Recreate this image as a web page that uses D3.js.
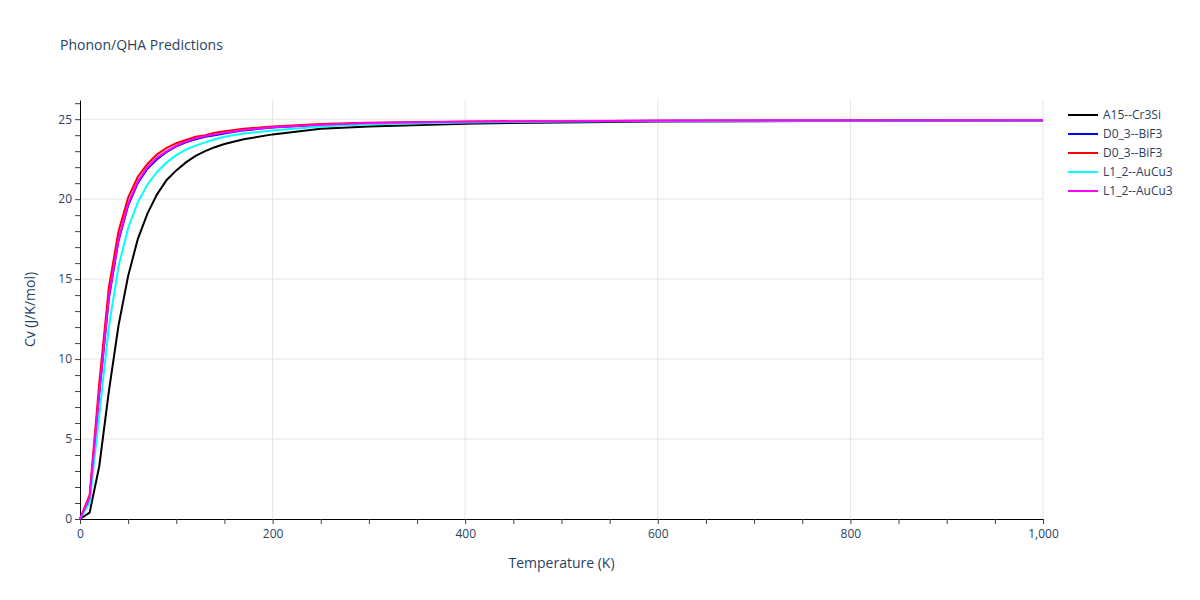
<!DOCTYPE html><html><head><meta charset="utf-8"><script src="https://cdn.jsdelivr.net/npm/d3@7"></script>
<style>body{margin:0;background:#fff}text{font-family:"Open Sans",sans-serif}</style></head><body><svg id="c" width="1200" height="600"></svg>
<script>
const temps=[0,10,20,30,40,50,60,70,80,90,100,110,120,130,140,150,170,200,250,300,400,500,600,800,1000];
const cvA15=[0,0.4,3.3,8,12.1,15.2,17.5,19.1,20.3,21.2,21.8,22.3,22.7,23.0,23.25,23.45,23.75,24.05,24.4,24.55,24.72,24.8,24.85,24.9,24.92];
const cvD03a=[0,1.3,7.8,13.8,17.4,19.6,21.0,21.9,22.5,22.95,23.3,23.55,23.75,23.9,24.0,24.1,24.3,24.48,24.65,24.75,24.83,24.87,24.9,24.92,24.93];
const cvD03b=[0,1.5,8.5,14.5,18.0,20.1,21.4,22.2,22.8,23.2,23.5,23.7,23.9,24.0,24.15,24.25,24.4,24.55,24.7,24.78,24.85,24.88,24.9,24.92,24.93];
const cvL12a=[0,1.0,6.5,12.0,15.8,18.2,19.8,20.9,21.7,22.3,22.75,23.1,23.35,23.55,23.75,23.9,24.1,24.3,24.55,24.68,24.8,24.85,24.88,24.91,24.92];
const cvL12b=[0,1.35,7.9,13.9,17.5,19.7,21.1,22.0,22.6,23.0,23.35,23.6,23.8,23.95,24.05,24.15,24.33,24.5,24.66,24.76,24.84,24.87,24.9,24.92,24.93];
const names=["A15--Cr3Si","D0_3--BiF3","D0_3--BiF3","L1_2--AuCu3","L1_2--AuCu3"];
const colors=["#000000","#0000ff","#ff0000","#00ffff","#ff00ff"];
const series=[cvA15,cvD03a,cvD03b,cvL12a,cvL12b];
const xTicks=[0,200,400,600,800,1000], yTicks=[0,5,10,15,20,25];
const svg=d3.select("#c");
const L=80,R=1043,T=100,B=519;
const x=d3.scaleLinear().domain([0,1000]).range([L,R]);
const y=d3.scaleLinear().domain([0,26.2]).range([B,T]);
const g=svg.append("g");
xTicks.forEach(t=>{if(t>0)g.append("line").attr("x1",x(t)).attr("x2",x(t)).attr("y1",T).attr("y2",B).attr("stroke","#e5e5e5")});
yTicks.forEach(t=>{if(t>0)g.append("line").attr("x1",L).attr("x2",R).attr("y1",y(t)).attr("y2",y(t)).attr("stroke","#e5e5e5")});
const xa=svg.append("g").attr("transform",`translate(0,${B})`).call(d3.axisBottom(x).tickValues(xTicks).tickSize(0).tickPadding(10));
xa.select(".domain").attr("stroke","#000");
svg.append("g").attr("transform",`translate(0,${B})`).call(d3.axisBottom(x).tickValues(d3.range(0,1001,50)).tickSize(5).tickFormat("")).select(".domain").remove();
const ya=svg.append("g").attr("transform",`translate(${L},0)`).call(d3.axisLeft(y).tickValues(yTicks).tickSize(0).tickPadding(8));
ya.select(".domain").attr("stroke","#000");
svg.append("g").attr("transform",`translate(${L},0)`).call(d3.axisLeft(y).tickValues(d3.range(0,27,1)).tickSize(5).tickFormat("")).select(".domain").remove();
svg.selectAll(".tick text").attr("font-size",12).attr("fill","#2a3f5f").attr("font-family","Open Sans");
svg.selectAll(".tick line").attr("stroke","#444");
const line=d3.line().x((d,i)=>x(temps[i])).y(d=>y(d));
series.forEach((s,i)=>svg.append("path").datum(s).attr("d",line).attr("fill","none").attr("stroke",colors[i]).attr("stroke-width",2));
svg.append("text").attr("x",60).attr("y",50).attr("font-size",14).attr("fill","#2a3f5f").text("Phonon/QHA Predictions");
svg.append("text").attr("x",(L+R)/2).attr("y",568).attr("text-anchor","middle").attr("font-size",14).attr("fill","#2a3f5f").text("Temperature (K)");
svg.append("text").attr("transform",`translate(35,${(T+B)/2}) rotate(-90)`).attr("text-anchor","middle").attr("font-size",14).attr("fill","#2a3f5f").text("Cv (J/K/mol)");
names.forEach((n,i)=>{const ly=115+i*19;
svg.append("line").attr("x1",1068).attr("x2",1098).attr("y1",ly).attr("y2",ly).attr("stroke",colors[i]).attr("stroke-width",2);
svg.append("text").attr("x",1103).attr("y",ly+4).attr("font-size",12).attr("fill","#2a3f5f").text(n);});
</script></body></html>
